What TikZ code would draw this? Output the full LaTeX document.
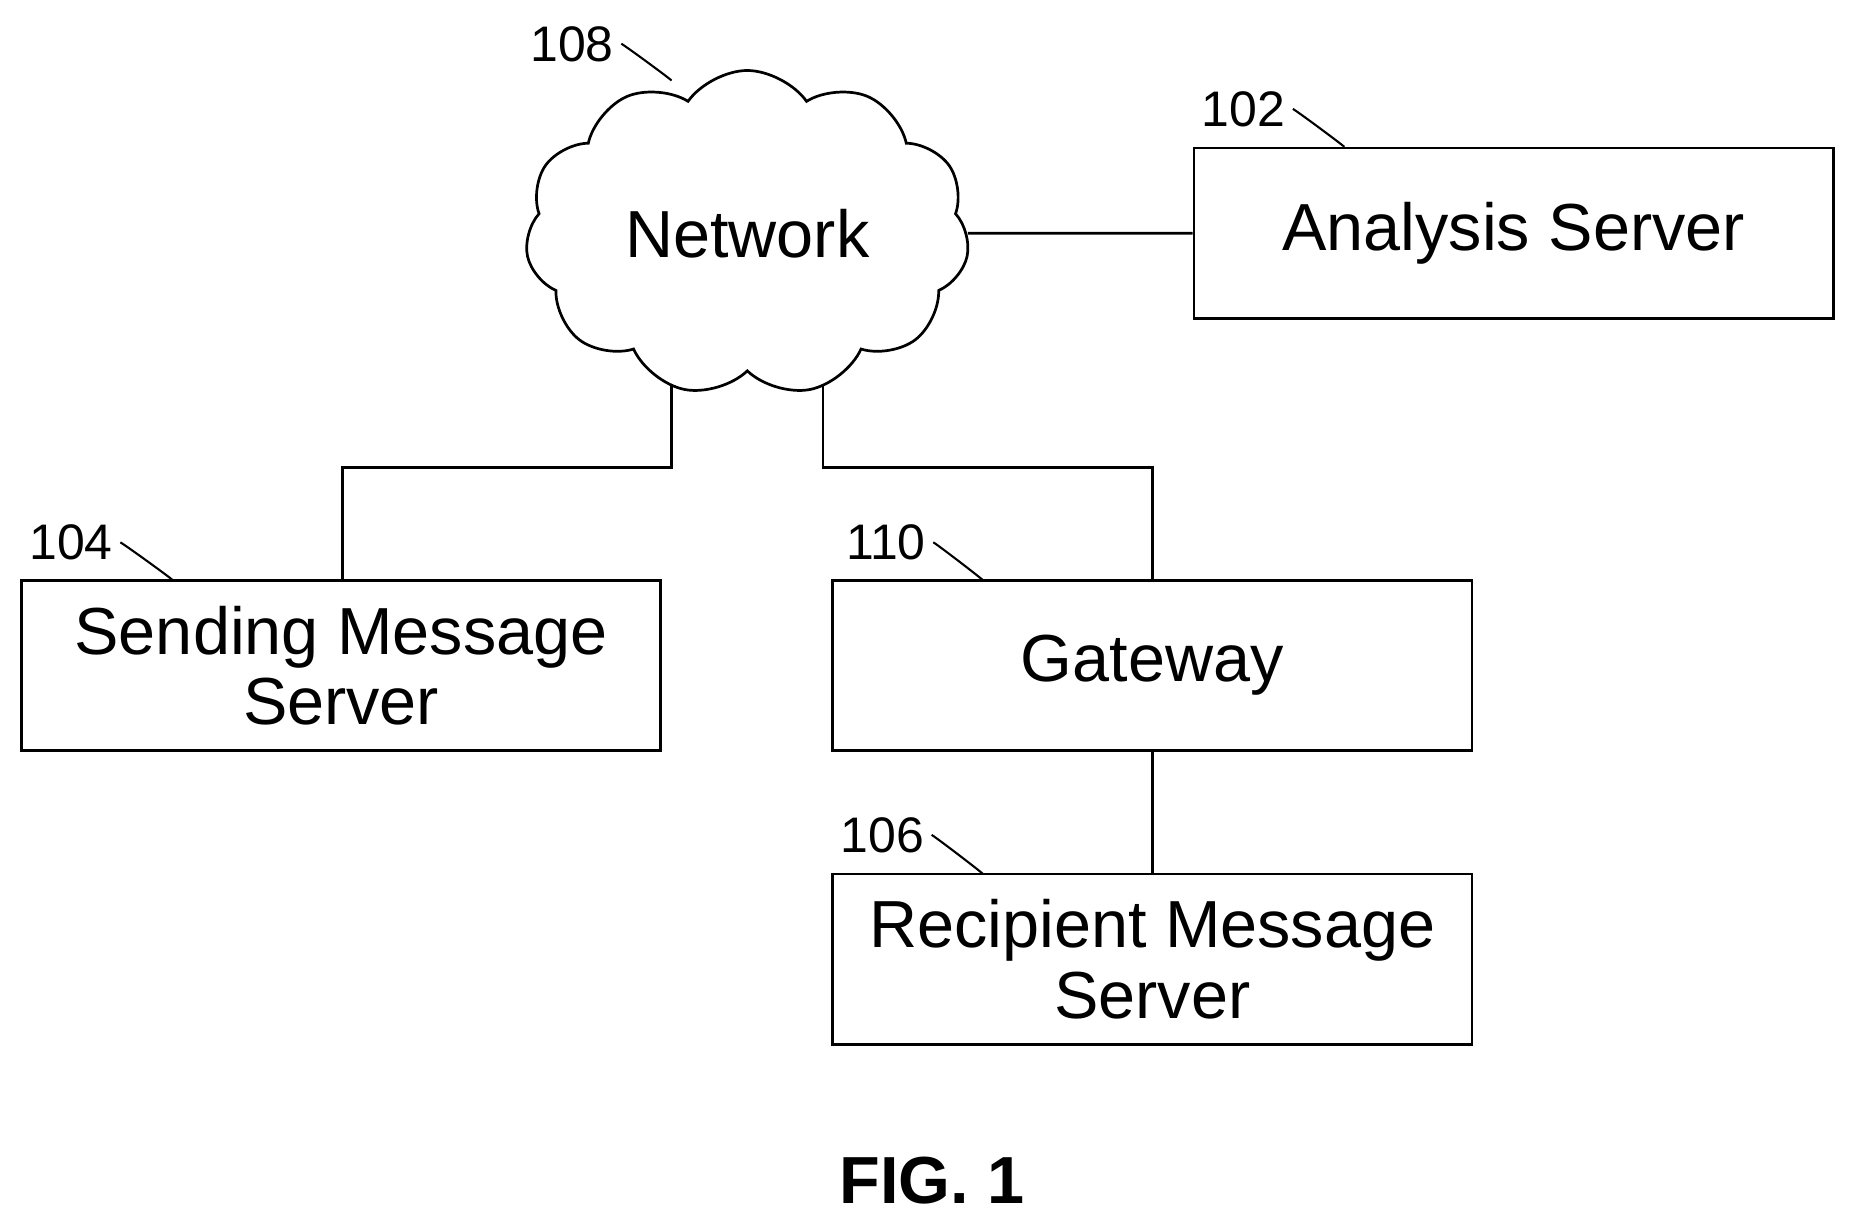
\documentclass[tikz,border=0pt]{standalone}
\usepackage{fontspec}
\setmainfont{Liberation Sans}
\usetikzlibrary{shapes.symbols}
\begin{document}
\begin{tikzpicture}[x=0.02cm,y=-0.02cm,line width=1.3pt,
 box/.style={draw,minimum width=10.8cm,minimum height=2.88cm,inner sep=0pt,font=\fontsize{32}{34}\selectfont,align=center},
 lbl/.style={font=\fontsize{24}{26}\selectfont,inner sep=0pt},
 sq/.style={line width=1pt}]
\useasboundingbox (0,0) rectangle (1568,1033);
\node[box] (an) at (1278,197) {Analysis Server};
\node[box] (se) at (288,562) {Sending Message\\Server};
\node[box] (gw) at (973,562) {Gateway};
\node[box] (re) at (973,810) {Recipient Message\\Server};
\node[draw,cloud,cloud puffs=11,cloud puff arc=110,aspect=1.35,minimum width=7.5cm,minimum height=5.5cm,font=\fontsize{32}{34}\selectfont,inner sep=0pt] (nw) at (631,197) {Network};
\coordinate (n1) at (567,325); \coordinate (n2) at (695,325);
\coordinate (n3) at (289,395); \coordinate (n4) at (973,395);
\draw (nw.east) -- (an.west);
\draw (n1) -- (567,395) -- (n3) -- (se.north -| n3);
\draw (n2) -- (695,395) -- (n4) -- (gw.north);
\draw (gw.south) -- (re.north);
\node[lbl] (l108) at (483,37) {108};
\node[lbl] (l102) at (1050,92) {102};
\node[lbl] (l104) at (60,458) {104};
\node[lbl] (l110) at (748,458) {110};
\node[lbl] (l106) at (745,705) {106};
\coordinate (t108) at (567,68); \coordinate (t102) at (1135,124);
\coordinate (t104) at (146,490); \coordinate (t110) at (830,490); \coordinate (t106) at (830,738);
\foreach \a/\b in {l108/t108,l102/t102,l104/t104,l110/t110,l106/t106}
  \draw[sq] ([xshift=3pt]\a.east) .. controls +(0.8,-0.25) and +(-0.05,-0.7) .. (\b);
\node[font=\bfseries\fontsize{32}{34}\selectfont] (fig) at (787,997) {FIG. 1};
\end{tikzpicture}
\end{document}
